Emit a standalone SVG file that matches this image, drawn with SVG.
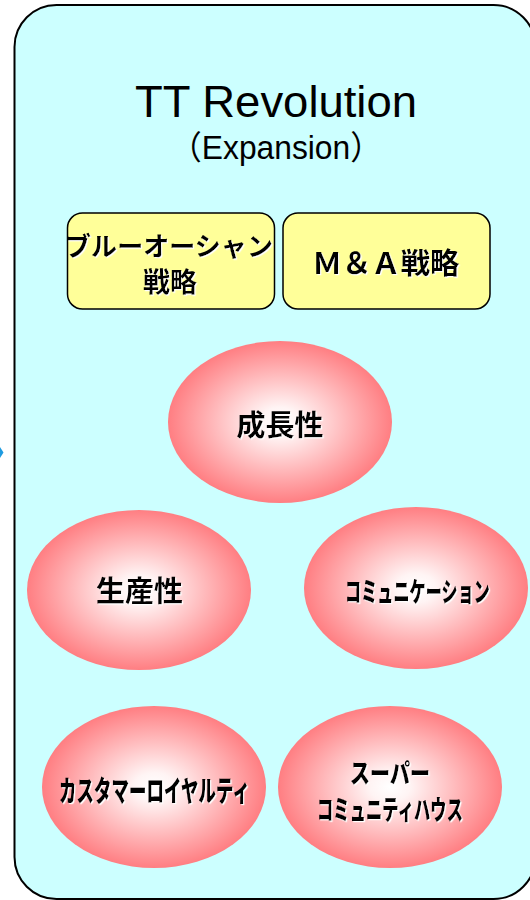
<svg xmlns="http://www.w3.org/2000/svg" width="530" height="900" viewBox="0 0 530 900">
  <defs>
    <radialGradient id="pink" cx="50%" cy="50%" r="50%">
      <stop offset="0%" stop-color="#FFFFFF"/>
      <stop offset="18%" stop-color="#FFF4F4"/>
      <stop offset="100%" stop-color="#FF7E82"/>
    </radialGradient>
    <filter id="wshadow" x="-10%" y="-10%" width="130%" height="140%">
      <feDropShadow dx="1.2" dy="1.2" stdDeviation="0" flood-color="#FFFFFF" flood-opacity="1"/>
    </filter>
  </defs>
  <style>
    .frame { fill: #CCFFFF; stroke: #000000; stroke-width: 2; }
    .box { fill: #FFFF99; stroke: #000000; stroke-width: 1.5; }
    .oval { fill: url(#pink); stroke: none; }
    .title { font-family: "Liberation Sans", "Noto Sans CJK JP", sans-serif; fill: #000000; }
    .jp { font-family: "Noto Sans CJK JP", sans-serif; font-weight: bold; fill: #000000; text-anchor: middle; filter: url(#wshadow); }
    .kana { font-weight: 900; }
  </style>

  <g id="frame">
    <rect class="frame" x="14.5" y="5" width="521" height="894" rx="42" ry="42"/>
  </g>

  <g id="connectors">
    <polygon points="0,447 3.5,452.5 0,458" fill="#1E9BE0"/>
  </g>

  <g id="title">
    <text class="title" x="135" y="117" font-size="45" textLength="282" lengthAdjust="spacingAndGlyphs">TT Revolution</text>
    <text class="title" x="170" y="159" font-size="33" textLength="212" lengthAdjust="spacingAndGlyphs">（Expansion）</text>
  </g>

  <g id="node-blue-ocean">
    <rect class="box" x="67.5" y="213" width="207" height="96" rx="15" ry="15"/>
    <text class="jp" x="169" y="256" font-size="26" textLength="208" lengthAdjust="spacingAndGlyphs">ブルーオーシャン</text>
    <text class="jp" x="170" y="292" font-size="27">戦略</text>
  </g>

  <g id="node-ma">
    <rect class="box" x="283" y="213" width="207" height="96" rx="15" ry="15"/>
    <text class="jp" x="386" y="274" font-size="29" textLength="147" lengthAdjust="spacingAndGlyphs">Ｍ＆Ａ戦略</text>
  </g>

  <g id="node-growth">
    <ellipse class="oval" cx="280" cy="422" rx="112" ry="81"/>
    <text class="jp" x="280" y="436" font-size="29">成長性</text>
  </g>

  <g id="node-productivity">
    <ellipse class="oval" cx="139" cy="590" rx="112" ry="80"/>
    <text class="jp" x="139.5" y="602" font-size="29">生産性</text>
  </g>

  <g id="node-communication">
    <ellipse class="oval" cx="416" cy="588" rx="112" ry="81"/>
    <text class="jp kana" x="417.5" y="602" font-size="27" textLength="145" lengthAdjust="spacingAndGlyphs">コミュニケーション</text>
  </g>

  <g id="node-loyalty">
    <ellipse class="oval" cx="154" cy="787" rx="112" ry="81"/>
    <text class="jp kana" x="154.5" y="802" font-size="29" textLength="191" lengthAdjust="spacingAndGlyphs">カスタマーロイヤルティ</text>
  </g>

  <g id="node-super-community">
    <ellipse class="oval" cx="390" cy="787" rx="112" ry="81"/>
    <text class="jp kana" x="390" y="783" font-size="26" textLength="80" lengthAdjust="spacingAndGlyphs">スーパー</text>
    <text class="jp kana" x="390" y="820" font-size="27" textLength="146" lengthAdjust="spacingAndGlyphs">コミュニティハウス</text>
  </g>
</svg>
